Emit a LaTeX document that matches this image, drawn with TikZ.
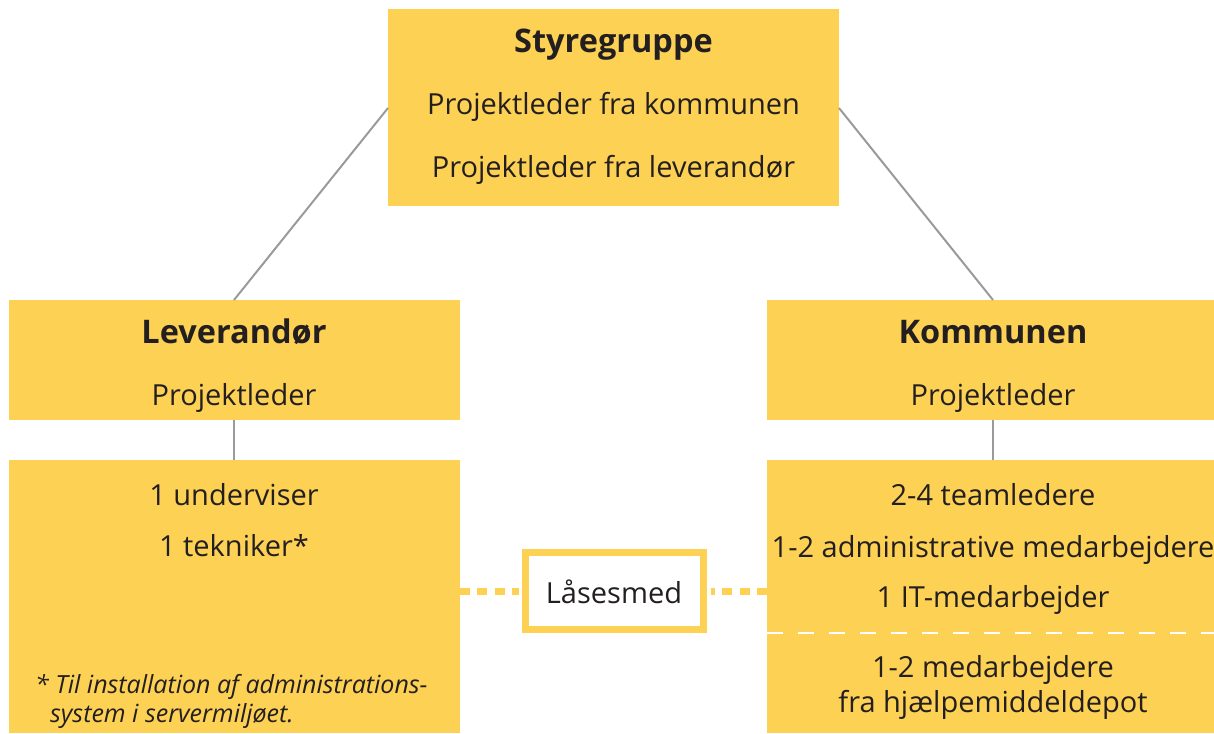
\documentclass[tikz,border=0pt]{standalone}
\usepackage{fontspec}
\setmainfont{Open Sans}
\definecolor{boxyellow}{RGB}{253,209,84}
\definecolor{linegrey}{RGB}{154,154,156}
\definecolor{txt}{RGB}{35,31,32}
\begin{document}
\begin{tikzpicture}[x=1pt,y=-1pt,
  ybox/.style={fill=boxyellow,draw=none},
  greyline/.style={draw=linegrey,line width=2pt},
  lbl/.style={anchor=base,inner sep=0pt,text=txt,font=\fontsize{29}{33}\selectfont},
  ttl/.style={anchor=base,inner sep=0pt,text=txt,font=\fontsize{32.5}{36}\selectfont\bfseries},
  foot/.style={anchor=base west,inner sep=0pt,text=txt,font=\fontsize{25}{29}\selectfont\itshape},
  yconn/.style={draw=boxyellow,line width=7pt,dash pattern=on 10pt off 7.33pt}]
\useasboundingbox (0,0) rectangle (1214,733);
% boxes
\path[ybox] (388,9) rectangle (839,206);
\path[ybox] (9,300) rectangle (460,420);
\path[ybox] (767,300) rectangle (1214,420);
\path[ybox] (9,460) rectangle (460,733);
\path[ybox] (767,460) rectangle (1214,733);
\draw[white,line width=2.5pt,dash pattern=on 16pt off 15pt] (767,633) -- (1214,633);
% coordinates for connectors
\coordinate (sgL) at (388,108);
\coordinate (sgR) at (839,108);
\coordinate (levT) at (234,300);
\coordinate (levB) at (234,420);
\coordinate (levLowT) at (234,460);
\coordinate (komT) at (993,300);
\coordinate (komB) at (993,420);
\coordinate (komLowT) at (993,460);
\coordinate (levR) at (460,591);
\coordinate (komL) at (767,591);
\draw[greyline] (sgL) -- (levT);
\draw[greyline] (sgR) -- (komT);
\draw[greyline] (levB) -- (levLowT);
\draw[greyline] (komB) -- (komLowT);
% Låsesmed
\node[draw=boxyellow,line width=7pt,fill=white,minimum width=178pt,minimum height=77pt,inner sep=0pt] (las) at (614.5,591) {};
\node[lbl] (lastxt) at (614,603) {Låsesmed};
\draw[yconn] (levR) -- ([xshift=-3.5pt]las.west);
\draw[yconn] (komL) -- ([xshift=3.5pt]las.east);
% texts
\node[ttl] (t1) at (613.5,53) {Styregruppe};
\node[lbl] (t2) at (613.5,114) {Projektleder fra kommunen};
\node[lbl] (t3) at (613.5,177) {Projektleder fra leverandør};
\node[ttl] (t4) at (234,343) {Leverandør};
\node[lbl] (t5) at (234,405) {Projektleder};
\node[ttl] (t6) at (993,343) {Kommunen};
\node[lbl] (t7) at (993,405) {Projektleder};
\node[lbl] (t8) at (234,505) {1 underviser};
\node[lbl] (t9) at (234,556) {1 tekniker*};
\node[lbl] (t10) at (993,505) {2-4 teamledere};
\node[lbl] (t11) at (993,557) {1-2 administrative medarbejdere};
\node[lbl] (t12) at (993,607) {1 IT-medarbejder};
\node[lbl] (t13) at (993,677) {1-2 medarbejdere};
\node[lbl] (t14) at (993,712) {fra hjælpemiddeldepot};
\node[foot] (f1) at (35,693) {* Til installation af administrations-};
\node[foot] (f2) at (50,722) {system i servermiljøet.};
\end{tikzpicture}
\end{document}
